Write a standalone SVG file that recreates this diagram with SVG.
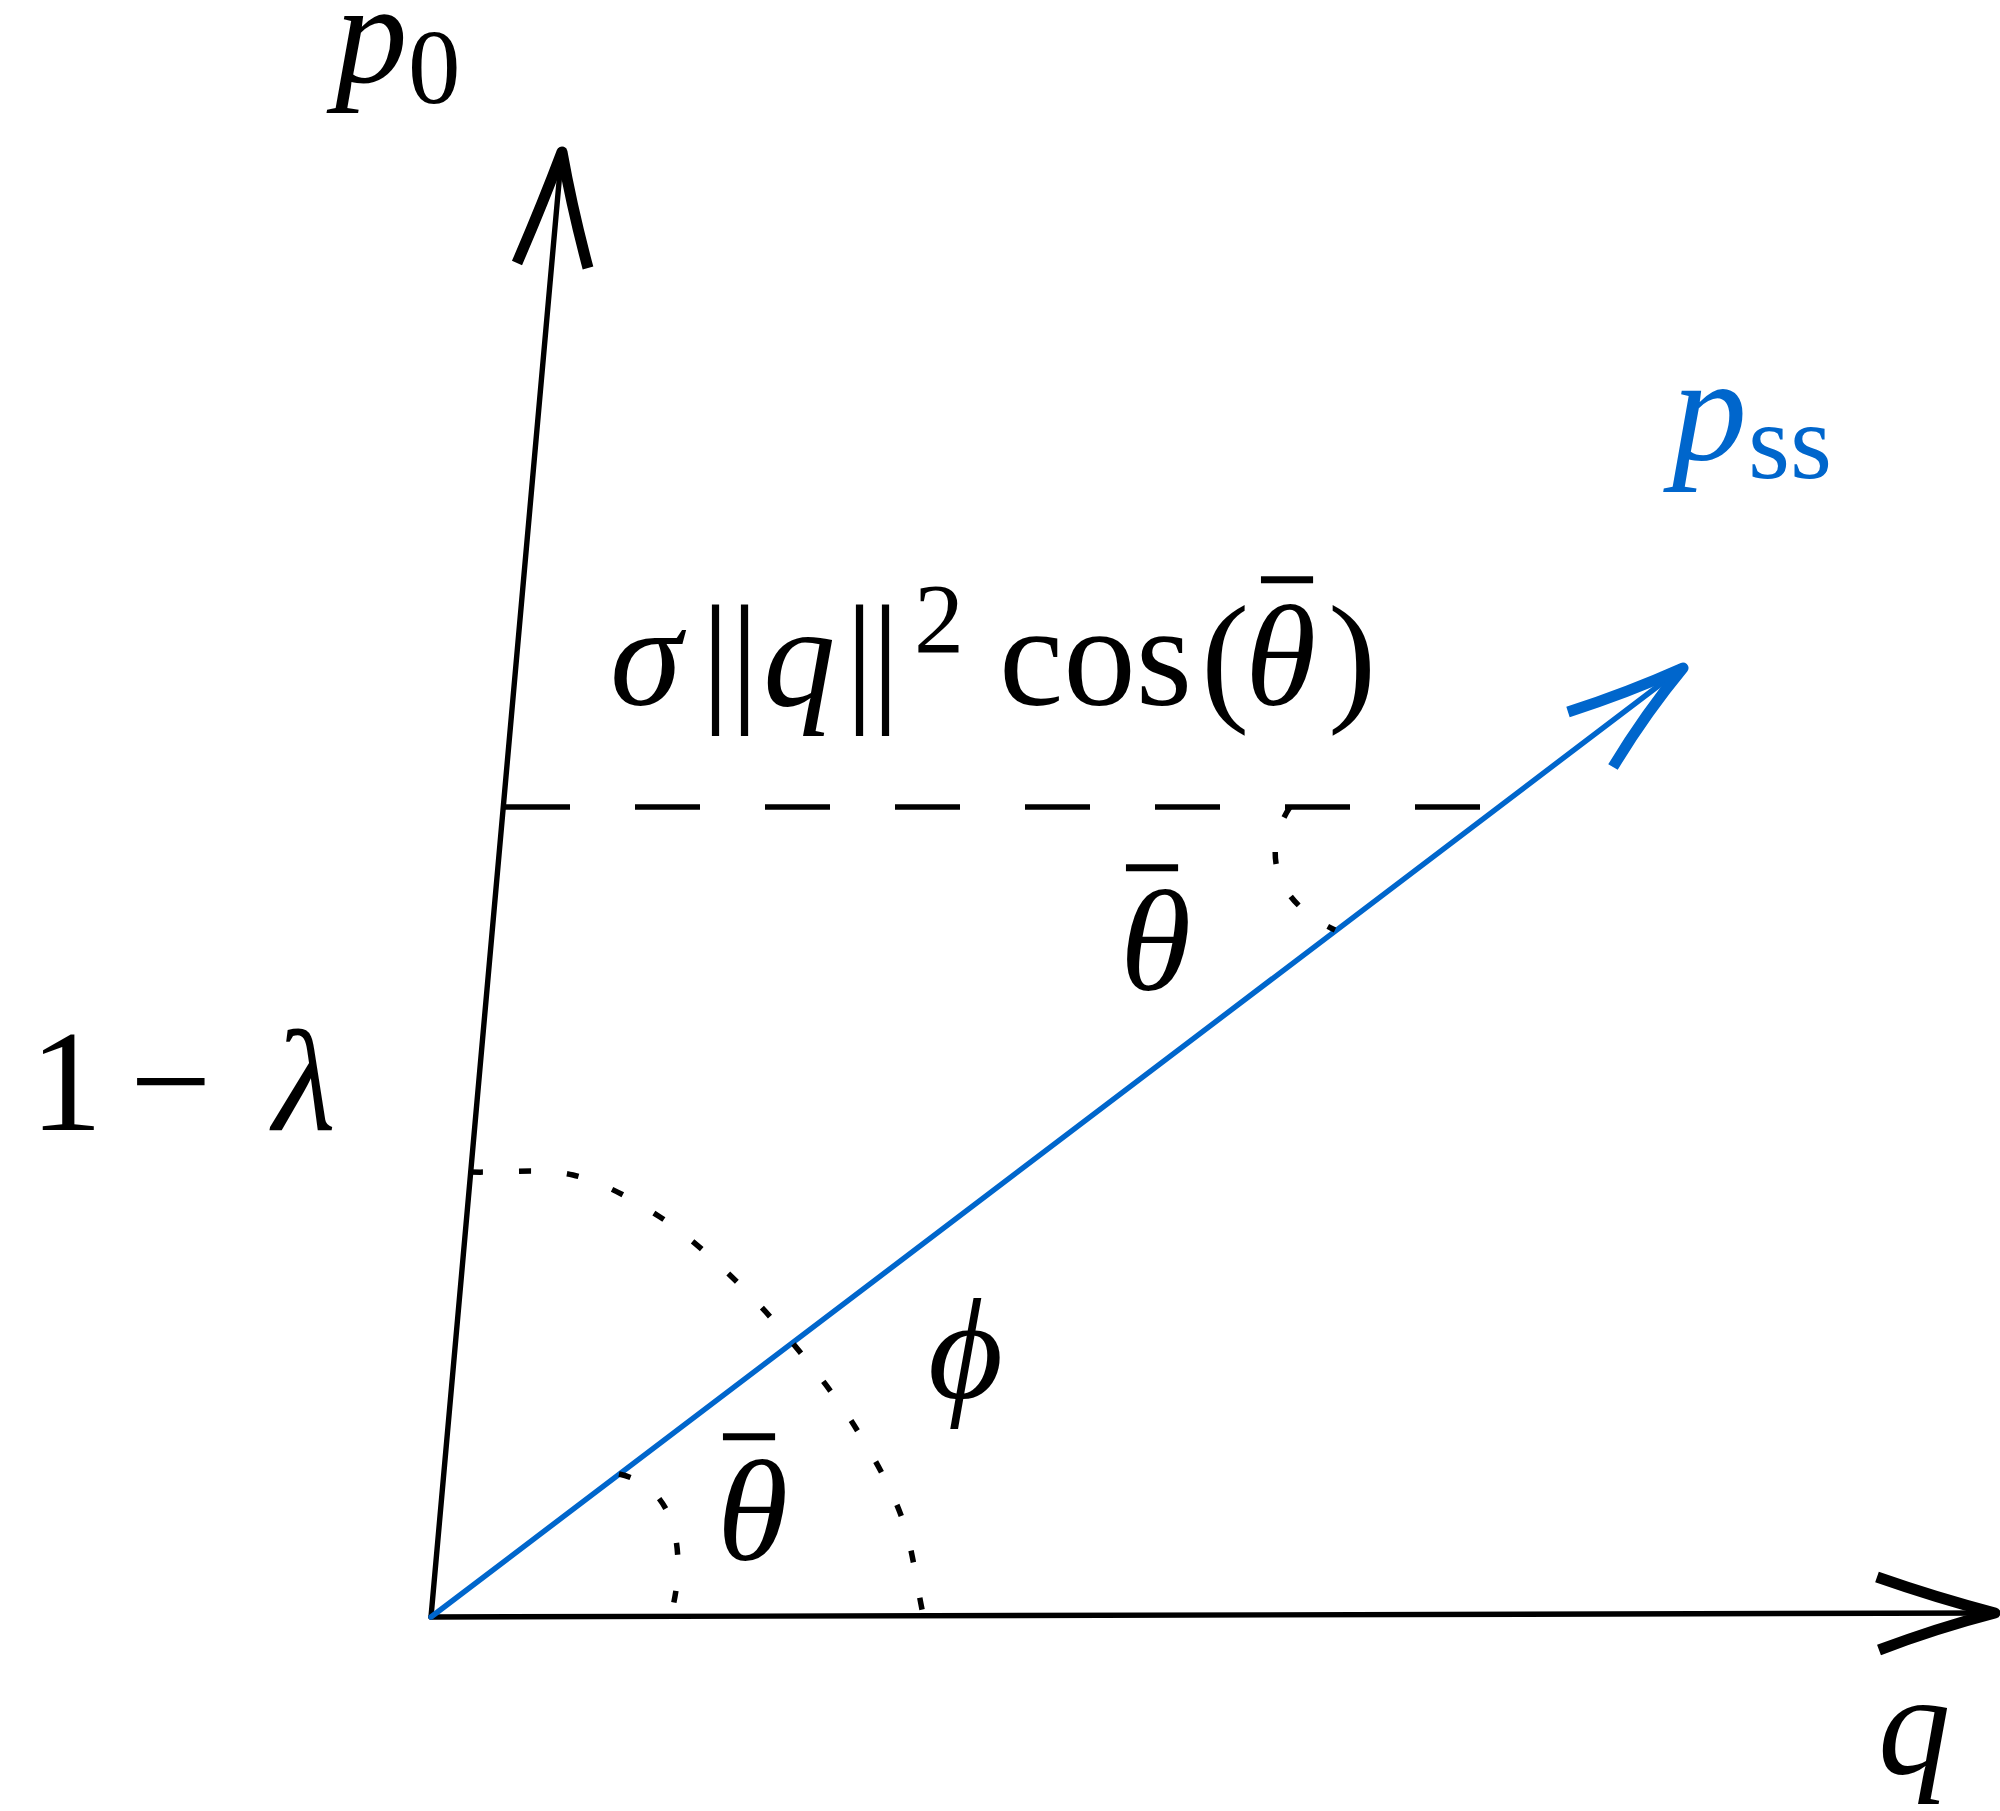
<svg xmlns="http://www.w3.org/2000/svg" width="2000" height="1811" viewBox="0 0 2000 1811">
<style>
.ax{stroke:#000;stroke-width:5.4;fill:none;stroke-linecap:round}
.tip{stroke:#000;stroke-width:11;fill:none;stroke-linecap:butt;stroke-linejoin:round}
.blue{stroke:#0066CC}
.dot{stroke:#000;stroke-width:5.5;fill:none;stroke-dasharray:12 36}
.dash{stroke:#000;stroke-width:5.5;fill:none;stroke-dasharray:65 65}
text{font-family:"Liberation Serif","DejaVu Serif",serif;fill:#000}
.it{font-style:italic}
.m{font-size:145px}
.sub{font-size:105px}
.bl{fill:#0066CC}
.bar{font-size:96px;font-style:normal;stroke:#000;stroke-width:2.5}
</style>
<rect width="2000" height="1811" fill="#fff"/>
<g id="connectors">
<line class="ax" x1="431" y1="1617" x2="1990" y2="1613"/>
<path class="tip" d="M1877,1577 Q1937,1598 1995,1613 Q1937,1628 1879,1650"/>
<line class="ax" x1="431" y1="1617" x2="561" y2="160"/>
<path class="tip" d="M517,263 Q542,205 562,152 Q572,208 588,268"/>
<line class="ax blue" x1="431" y1="1617" x2="1678" y2="671"/>
<path class="tip blue" d="M1568,712 Q1627,693 1683,668 Q1645,714 1613,767"/>
<line class="dash" x1="505" y1="807" x2="1490" y2="807"/>
<path class="dot" d="M471,1172 C505,1173 541.5,1167.5 573,1175 C603.3,1182.3 633,1199.5 660,1217 C687,1234.5 711.7,1257.5 735,1280 C758.3,1302.5 779.7,1327 800,1352 C820.3,1377 840,1402.3 857,1430 C874,1457.7 891,1487.3 902,1518 C913,1548.7 916,1582 923,1614"/>
<path class="dot" d="M619,1474 C690,1490 682,1580 670,1617"/>
<path class="dot" d="M1290,807 C1262,850 1272,900 1335,930"/>
</g>
<g id="label-p0">
<text class="m" y="82"><tspan class="it" x="335">p</tspan><tspan class="sub" x="408" y="103">0</tspan></text>
</g>
<g id="label-pss">
<text class="bl" y="460"><tspan class="it" x="1672" font-size="150">p</tspan><tspan x="1748" y="478" font-size="108">ss</tspan></text>
</g>
<g id="label-sigma">
<text class="m" y="705"><tspan class="it" x="610">σ</tspan><tspan x="701">|</tspan><tspan x="730">|</tspan><tspan class="it" x="763">q</tspan><tspan x="845">|</tspan><tspan x="871">|</tspan><tspan x="914" y="652" font-size="100">2</tspan><tspan x="999" y="705">cos</tspan><tspan x="1201">(</tspan><tspan class="it" x="1245">θ</tspan><tspan class="bar" x="1263" y="650">¯</tspan><tspan x="1328" y="705">)</tspan></text>
</g>
<g id="label-theta1">
<text class="m" y="990"><tspan class="it" x="1120">θ</tspan><tspan class="bar" x="1128" y="938">¯</tspan></text>
</g>
<g id="label-lambda">
<text class="m" y="1130"><tspan x="30">1</tspan><tspan x="130">−</tspan><tspan class="it" x="273">λ</tspan></text>
</g>
<g id="label-phi">
<text class="m it" x="928" y="1398">ϕ</text>
</g>
<g id="label-theta2">
<text class="m" y="1560"><tspan class="it" x="717">θ</tspan><tspan class="bar" x="725" y="1507">¯</tspan></text>
</g>
<g id="label-q">
<text class="m it" x="1878" y="1773">q</text>
</g>
</svg>
